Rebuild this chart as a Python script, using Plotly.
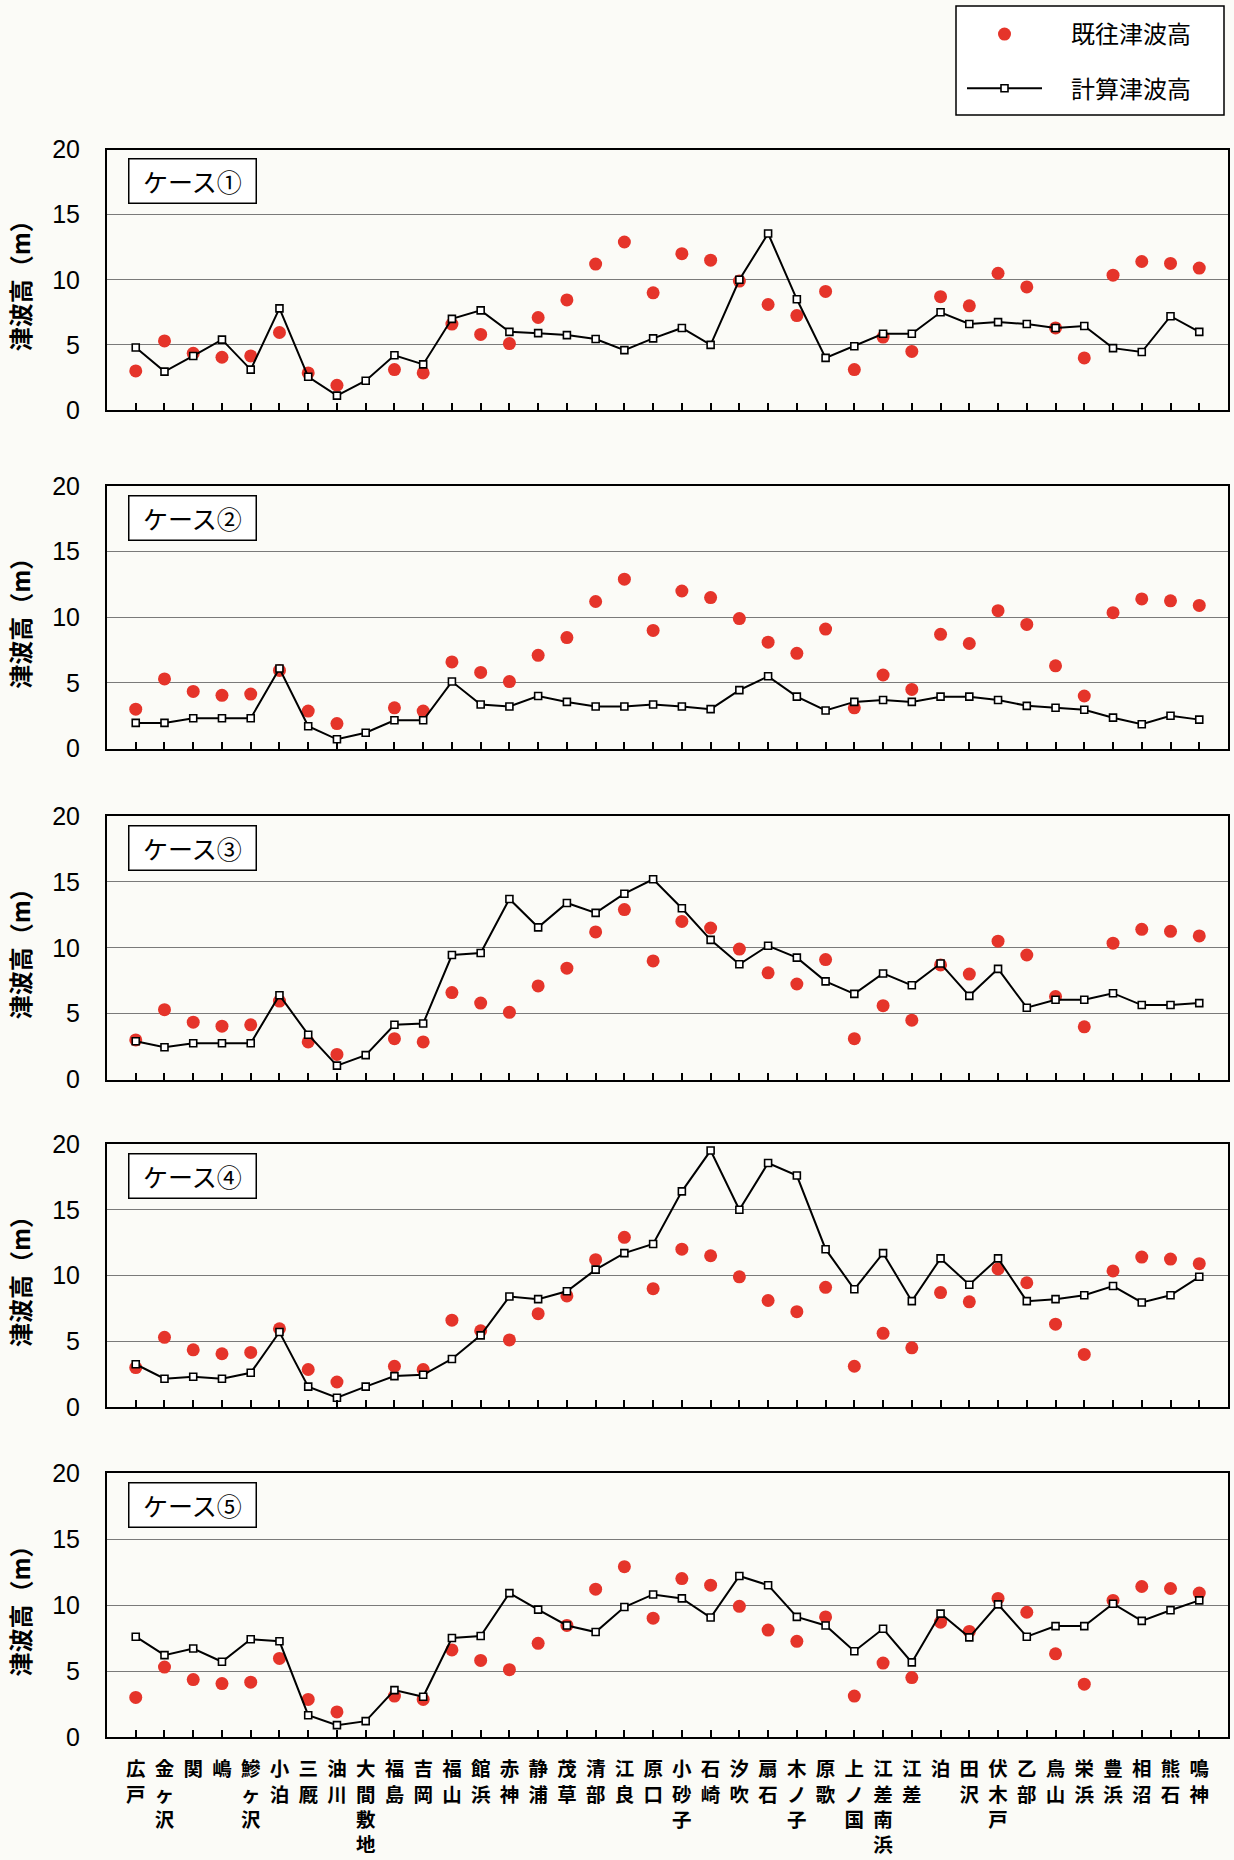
import plotly.graph_objects as go

categories = ["広戸", "金ヶ沢", "関", "嶋", "鰺ヶ沢", "小泊", "三厩", "油川", "大間敷地", "福島",
              "吉岡", "福山", "館浜", "赤神", "静浦", "茂草", "清部", "江良", "原口", "小砂子",
              "石崎", "汐吹", "扇石", "木ノ子", "原歌", "上ノ国", "江差南浜", "江差", "泊", "田沢",
              "伏木戸", "乙部", "鳥山", "栄浜", "豊浜", "相沼", "熊石", "鳴神"]

observed = [3.0, 5.3, 4.35, 4.05, 4.15, 5.95, 2.85, 1.9, None, 3.1, 2.85, 6.6, 5.8, 5.1, 7.1,
            8.45, 11.2, 12.9, 9.0, 12.0, 11.5, 9.9, 8.1, 7.25, 9.1, 3.1, 5.6, 4.5, 8.7, 8.0,
            10.5, 9.45, 6.3, 4.0, 10.35, 11.4, 11.25, 10.9]

calc1 = [4.8, 2.95, 4.15, 5.4, 3.1, 7.8, 2.55, 1.1, 2.25, 4.2, 3.5, 7.0, 7.65, 6.0, 5.9, 5.75,
         5.45, 4.6, 5.5, 6.3, 5.0, 10.0, 13.55, 8.5, 4.0, 4.9, 5.85, 5.85, 7.5, 6.6, 6.75, 6.6,
         6.3, 6.45, 4.75, 4.45, 7.2, 6.0]
calc2 = [1.95, 1.95, 2.3, 2.3, 2.3, 6.1, 1.7, 0.7, 1.2, 2.15, 2.15, 5.1, 3.35, 3.2, 4.0, 3.55,
         3.2, 3.2, 3.35, 3.2, 3.0, 4.45, 5.5, 3.95, 2.9, 3.55, 3.7, 3.55, 3.95, 3.95, 3.7, 3.25,
         3.1, 2.95, 2.35, 1.85, 2.5, 2.2]
calc3 = [2.9, 2.45, 2.75, 2.75, 2.75, 6.4, 3.4, 1.05, 1.85, 4.15, 4.25, 9.45, 9.6, 13.7, 11.55,
         13.4, 12.65, 14.1, 15.2, 13.0, 10.6, 8.75, 10.15, 9.25, 7.45, 6.5, 8.05, 7.15, 8.8, 6.35,
         8.4, 5.45, 6.05, 6.05, 6.55, 5.65, 5.65, 5.8]
calc4 = [3.25, 2.15, 2.3, 2.15, 2.6, 5.7, 1.55, 0.7, 1.55, 2.35, 2.45, 3.65, 5.45, 8.4, 8.2, 8.8,
         10.45, 11.7, 12.4, 16.4, 19.5, 15.0, 18.55, 17.6, 12.0, 8.95, 11.7, 8.05, 11.3, 9.3,
         11.3, 8.05, 8.2, 8.5, 9.2, 7.95, 8.5, 9.9]
calc5 = [7.6, 6.2, 6.7, 5.7, 7.4, 7.25, 1.65, 0.9, 1.2, 3.55, 3.05, 7.5, 7.65, 10.9, 9.65, 8.45,
         7.95, 9.85, 10.8, 10.5, 9.05, 12.2, 11.5, 9.1, 8.45, 6.5, 8.2, 5.65, 9.35, 7.55, 10.05,
         7.6, 8.4, 8.4, 10.1, 8.8, 9.6, 10.35]

case_labels = ["ケース①", "ケース②", "ケース③", "ケース④", "ケース⑤"]
calc_series = [calc1, calc2, calc3, calc4, calc5]
obs_name = "既往津波高"
calc_name = "計算津波高"
y_title = "津波高（m）"

W, H = 1234, 1860
panel_px = [(149.5, 410), (486, 748.5), (816, 1079.5), (1144, 1407), (1473, 1737)]
x_left, x_right = 107, 1228

CJK = "Noto Sans CJK JP, Noto Sans CJK SC, sans-serif"
NUM = "Liberation Sans, Arial, sans-serif"
RED = "#e5342a"
BG = "#fbfbf7"
SP = "\u3000"

fig = go.Figure()
tick_text = ["<br>".join(list(c)) for c in categories]

for i, (calc, label) in enumerate(zip(calc_series, case_labels)):
    n = i + 1
    xa = "x" if n == 1 else f"x{n}"
    ya = "y" if n == 1 else f"y{n}"
    fig.add_trace(go.Scatter(
        x=categories, y=observed, mode="markers", name=SP + obs_name,
        marker=dict(symbol="circle", size=13, color=RED, line=dict(width=0)),
        xaxis=xa, yaxis=ya, showlegend=(n == 1), legendgroup="obs",
        cliponaxis=False))
    fig.add_trace(go.Scatter(
        x=categories, y=calc, mode="lines+markers", name=SP + calc_name,
        line=dict(color="black", width=2),
        marker=dict(symbol="square", size=7, color="white", line=dict(color="black", width=1.6)),
        xaxis=xa, yaxis=ya, showlegend=(n == 1), legendgroup="calc",
        cliponaxis=False))

    top, bot = panel_px[i]
    dom_y = [1 - bot / H, 1 - top / H]
    xkey = "xaxis" if n == 1 else f"xaxis{n}"
    ykey = "yaxis" if n == 1 else f"yaxis{n}"
    fig.layout[xkey] = dict(
        domain=[x_left / W, x_right / W], anchor=ya, automargin=False,
        type="category", categoryorder="array", categoryarray=categories,
        range=[-1, len(categories)],
        showline=True, mirror=True, linecolor="black", linewidth=2,
        ticks="inside", ticklen=7, tickwidth=1.5, tickcolor="black",
        tickvals=categories, ticktext=tick_text,
        showticklabels=(n == 5), showgrid=False, zeroline=False,
        tickfont=dict(family=CJK, size=19.5, color="black", weight="bold"),
        ticklabelstandoff=14, tickangle=0)
    fig.layout[ykey] = dict(
        domain=dom_y, anchor=xa, range=[0, 20], dtick=5, tick0=0, automargin=False,
        showline=True, mirror=True, linecolor="black", linewidth=2,
        ticks="", showgrid=True, gridcolor="#7a7a7a", gridwidth=1, zeroline=False,
        tickfont=dict(family=NUM, size=25, color="black"),
        ticklabelstandoff=20,
        title=dict(text=y_title, font=dict(family=CJK, size=24, color="black", weight="bold"),
                   standoff=15))

    fig.add_annotation(
        xref="paper", yref="paper", x=(x_left + 21) / W, y=1 - (top + 9) / H,
        xanchor="left", yanchor="top", text=label, showarrow=False,
        font=dict(family=CJK, size=25, color="black"),
        bordercolor="black", borderwidth=1.5, borderpad=1, bgcolor="white",
        width=124, height=41, align="center", valign="middle")

# legend frame
fig.add_shape(type="rect", xref="paper", yref="paper",
              x0=956 / W, x1=1224 / W, y0=1 - 115 / H, y1=1 - 6 / H,
              line=dict(color="black", width=1.5), fillcolor="white", layer="below")

fig.update_layout(
    width=W, height=H, margin=dict(l=0, r=0, t=0, b=0, autoexpand=False),
    paper_bgcolor=BG, plot_bgcolor=BG,
    showlegend=True,
    legend=dict(x=962 / W, xanchor="left", y=1 - 12 / H, yanchor="top",
                borderwidth=0, bgcolor="rgba(0,0,0,0)",
                font=dict(family=CJK, size=24, color="black"),
                tracegroupgap=20, itemwidth=75),
)

fig.write_html("out.html", config={"displayModeBar": False},
               post_script="document.body.style.margin='0';document.body.style.overflow='hidden';")
